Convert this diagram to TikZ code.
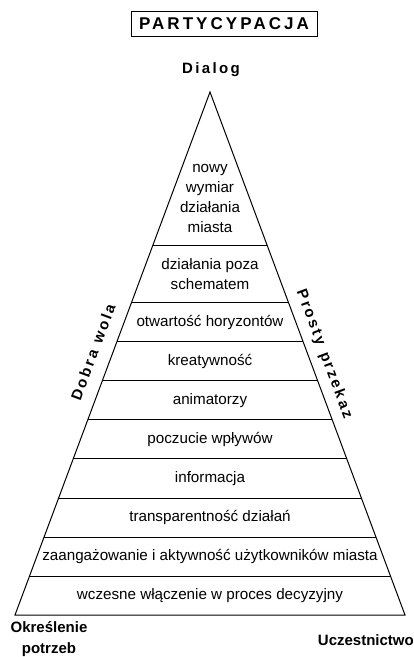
\documentclass[tikz,border=0pt]{standalone}
\usepackage{fontspec}
\setmainfont{Liberation Sans}
\newfontfamily\spacedfont[LetterSpace=16]{Liberation Sans}
\newfontfamily\titlefont[LetterSpace=18]{Liberation Sans}
\usetikzlibrary{calc}

\begin{document}
\begin{tikzpicture}[x=1pt,y=-1pt,
    level/.style={font=\fontsize{15.2}{20}\selectfont,align=center,inner sep=0pt},
    side/.style={font=\spacedfont\bfseries\fontsize{15}{18}\selectfont,inner sep=0pt},
    corner/.style={font=\bfseries\fontsize{15}{21}\selectfont,align=center,inner sep=0pt}]
      \useasboundingbox (0,0) rectangle (414,657) ;
      % pyramid
      \coordinate (A) at (210,92) ;
      \coordinate (L) at (15,615) ;
      \coordinate (R) at (405,615) ;
      \draw[line width=1pt] (L)--(A)--(R)--cycle ;
      \foreach \yy in {245,303,342,381,420,459,498,537,576}
        \draw[line width=1pt] ($(A)!{(\yy-92)/523}!(L)$) -- ($(A)!{(\yy-92)/523}!(R)$) ;
      % levels
      \node[level] (n1) at (210,198) {nowy\\wymiar\\działania\\miasta} ;
      \node[level] (n2) at (210,274) {działania poza\\schematem} ;
      \node[level] (n3) at (210,322.5) {otwartość horyzontów} ;
      \node[level] (n4) at (210,361.5) {kreatywność} ;
      \node[level] (n5) at (210,400.5) {animatorzy} ;
      \node[level] (n6) at (210,439.5) {poczucie wpływów} ;
      \node[level] (n7) at (210,478.5) {informacja} ;
      \node[level] (n8) at (210,517.5) {transparentność działań} ;
      \node[level] (n9) at (210,556.5) {zaangażowanie i aktywność użytkowników miasta} ;
      \node[level] (n10) at (210,595.5) {wczesne włączenie w proces decyzyjny} ;
      % labels
      \node[draw,line width=1pt,minimum width=186pt,minimum height=25pt,inner sep=0pt,
        font=\titlefont\bfseries\fontsize{17}{20}\selectfont] (title) at (224,23.5) {PARTYCYPACJA} ;
      \node[side] (dialog) at (211,70) {Dialog} ;
      \node[side,rotate=69.5] (dobra) at (93,352) {Dobra\hspace{8pt}wola} ;
      \node[side,rotate=-69.5] (prosty) at (324,354) {Prosty\hspace{8pt}przekaz} ;
      \node[corner] (okr) at (49,639) {Określenie\\potrzeb} ;
      \node[corner,anchor=east] (ucz) at (414,640) {Uczestnictwo} ;
    \end{tikzpicture}
\end{document}
